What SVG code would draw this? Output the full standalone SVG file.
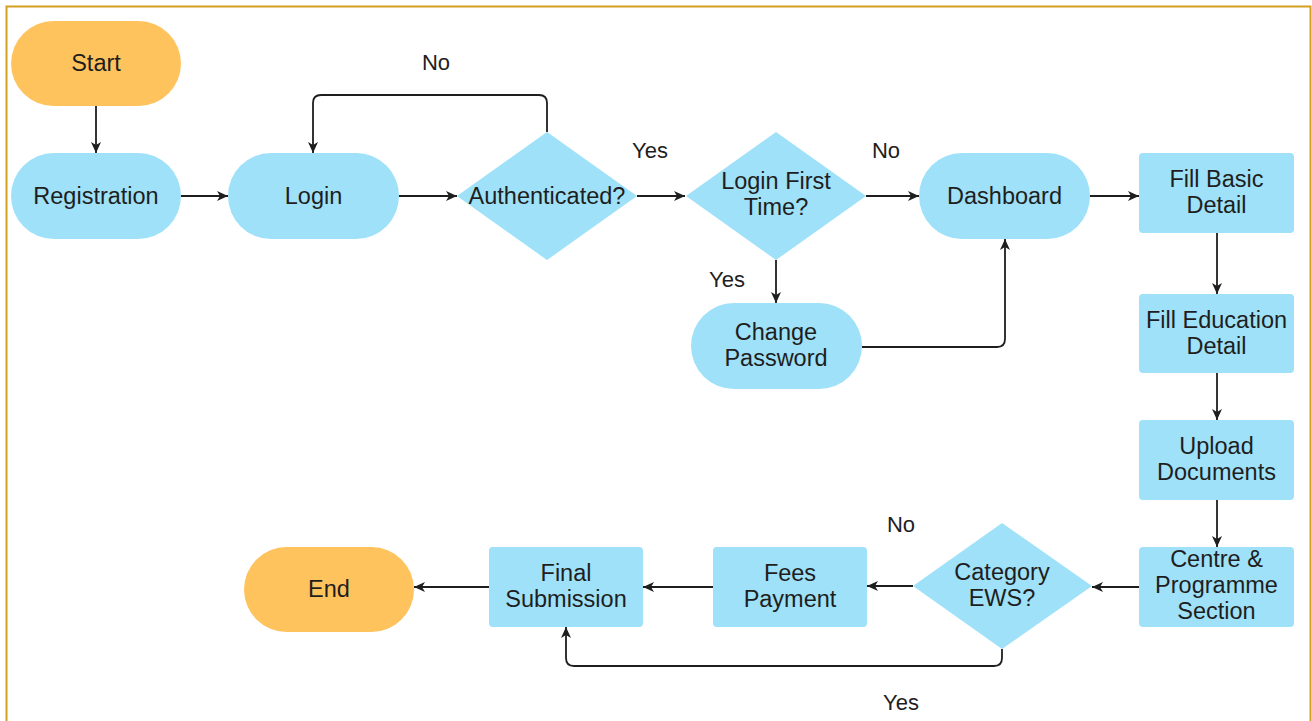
<svg xmlns="http://www.w3.org/2000/svg" width="1312" height="721" viewBox="0 0 1312 721">
<defs>
<style>
.term{fill:#ffc35e;}
.proc{fill:#9ee1f8;}
.t{font-family:"Liberation Sans",Arial,sans-serif;font-size:23.5px;fill:#1e1e1e;text-anchor:middle;}
.lb{font-family:"Liberation Sans",Arial,sans-serif;font-size:22px;fill:#1e1e1e;text-anchor:middle;}
.c{fill:none;stroke:#1e1e1e;stroke-width:1.8;marker-end:url(#ah);}
</style>
<marker id="ah" markerUnits="userSpaceOnUse" markerWidth="11" markerHeight="11" viewBox="0 0 11 11" refX="11" refY="5.5" orient="auto">
<path d="M0,0.5 L11,5.5 L0,10.5 L3,5.5 z" fill="#1e1e1e"/>
</marker>
</defs>
<rect x="0" y="0" width="1312" height="721" fill="#ffffff"/>
<rect x="6.5" y="6.5" width="1304" height="740" fill="none" stroke="#d4a020" stroke-width="2"/>

<g id="connectors">
<path class="c" d="M96,106 V153"/>
<path class="c" d="M181,196 H228"/>
<path class="c" d="M399,196 H457"/>
<path class="c" d="M547,132 V103 Q547,95 539,95 H321 Q313,95 313,103 V153"/>
<path class="c" d="M637,196 H685"/>
<path class="c" d="M866,196 H919"/>
<path class="c" d="M776,260 V303"/>
<path class="c" d="M862,347 H997 Q1005,347 1005,339 V239"/>
<path class="c" d="M1090,196 H1139"/>
<path class="c" d="M1217,233 V294"/>
<path class="c" d="M1217,373 V420"/>
<path class="c" d="M1217,500 V547"/>
<path class="c" d="M1139,587 H1092"/>
<path class="c" d="M913,586 H867"/>
<path class="c" d="M713,587 H643"/>
<path class="c" d="M489,587 H414"/>
<path class="c" d="M1002,649 V658 Q1002,666 994,666 H574 Q566,666 566,658 V627"/>
<text class="lb" x="436" y="70">No</text>
<text class="lb" x="650" y="158">Yes</text>
<text class="lb" x="886" y="158">No</text>
<text class="lb" x="727" y="287">Yes</text>
<text class="lb" x="901" y="532">No</text>
<text class="lb" x="901" y="710">Yes</text>
</g>

<g id="start"><rect class="term" x="11" y="21" width="170" height="85" rx="42.5"/><text class="t" x="96" y="71">Start</text></g>
<g id="registration"><rect class="proc" x="11" y="153" width="170" height="86" rx="43"/><text class="t" x="96" y="204">Registration</text></g>
<g id="login"><rect class="proc" x="228" y="153" width="171" height="86" rx="43"/><text class="t" x="313.5" y="204">Login</text></g>
<g id="authenticated"><polygon class="proc" points="547,132 637,196 547,260 457,196"/><text class="t" x="547" y="204">Authenticated?</text></g>
<g id="login-first"><polygon class="proc" points="776,132 866,196 776,260 686,196"/><text class="t" x="776" y="189">Login First</text><text class="t" x="776" y="215">Time?</text></g>
<g id="change-password"><rect class="proc" x="691" y="303" width="171" height="86" rx="43"/><text class="t" x="776" y="340">Change</text><text class="t" x="776" y="366">Password</text></g>
<g id="dashboard"><rect class="proc" x="919" y="153" width="171" height="86" rx="43"/><text class="t" x="1004.5" y="204">Dashboard</text></g>
<g id="fill-basic"><rect class="proc" x="1139" y="153" width="155" height="80" rx="4"/><text class="t" x="1216.5" y="187">Fill Basic</text><text class="t" x="1216.5" y="213">Detail</text></g>
<g id="fill-education"><rect class="proc" x="1139" y="294" width="155" height="79" rx="4"/><text class="t" x="1216.5" y="328">Fill Education</text><text class="t" x="1216.5" y="354">Detail</text></g>
<g id="upload"><rect class="proc" x="1139" y="420" width="155" height="80" rx="4"/><text class="t" x="1216.5" y="454">Upload</text><text class="t" x="1216.5" y="480">Documents</text></g>
<g id="centre"><rect class="proc" x="1139" y="547" width="155" height="80" rx="4"/><text class="t" x="1216.5" y="567">Centre &amp;</text><text class="t" x="1216.5" y="593">Programme</text><text class="t" x="1216.5" y="619">Section</text></g>
<g id="category"><polygon class="proc" points="1002,523 1092,586 1002,649 913,586"/><text class="t" x="1002" y="580">Category</text><text class="t" x="1002" y="606">EWS?</text></g>
<g id="fees"><rect class="proc" x="713" y="547" width="154" height="80" rx="4"/><text class="t" x="790" y="581">Fees</text><text class="t" x="790" y="607">Payment</text></g>
<g id="final"><rect class="proc" x="489" y="547" width="154" height="80" rx="4"/><text class="t" x="566" y="581">Final</text><text class="t" x="566" y="607">Submission</text></g>
<g id="end"><rect class="term" x="244" y="547" width="170" height="85" rx="42.5"/><text class="t" x="329" y="597">End</text></g>
</svg>
